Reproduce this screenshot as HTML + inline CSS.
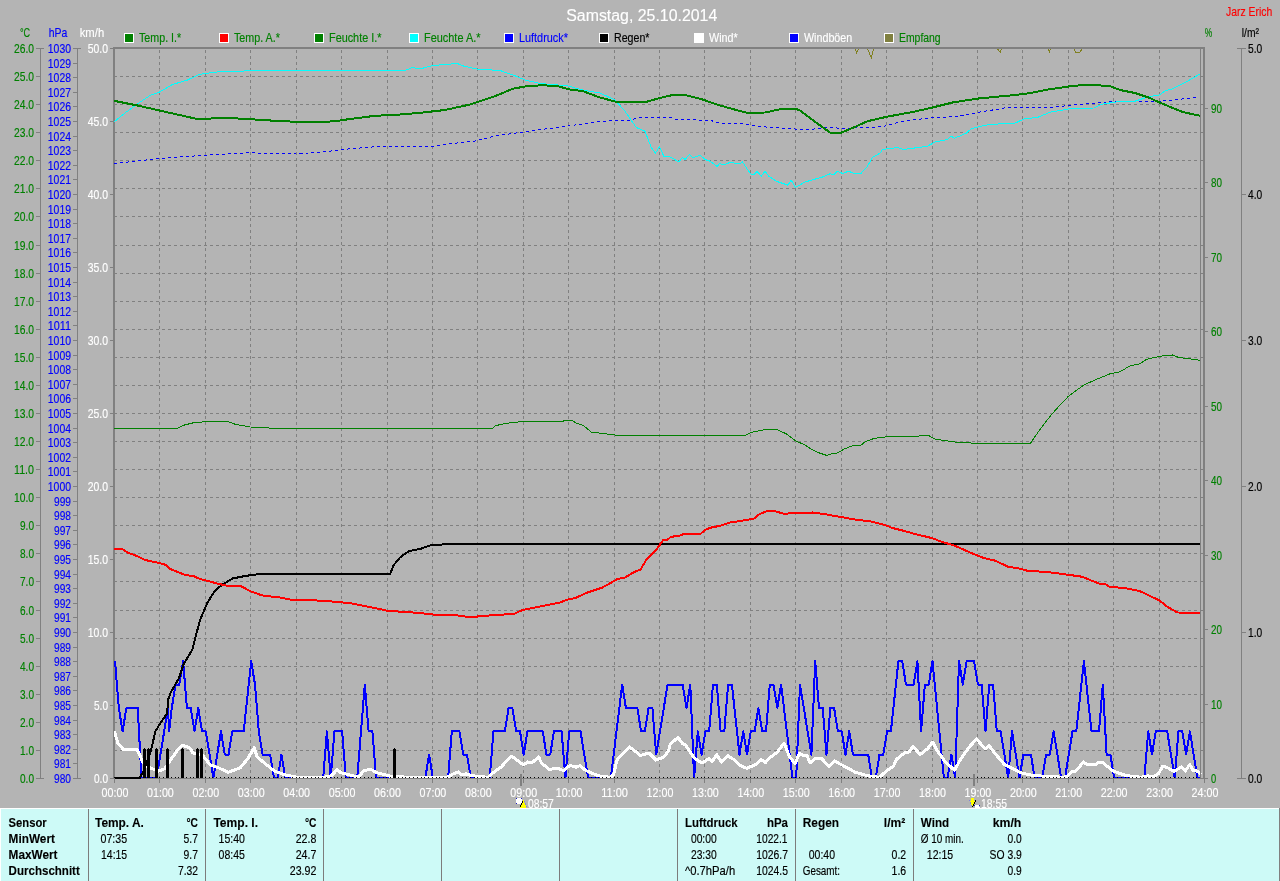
<!DOCTYPE html>
<html><head><meta charset="utf-8"><title>Samstag, 25.10.2014</title>
<style>
html,body{margin:0;padding:0;background:#b4b4b4;}
svg{display:block;will-change:transform;}
text{font-family:"Liberation Sans",sans-serif;}
polyline,path,rect,circle{shape-rendering:crispEdges;}
</style></head><body>
<svg width="1280" height="881" viewBox="0 0 1280 881">
<defs><clipPath id="plotclip"><rect x="114" y="49" width="1087" height="730"/></clipPath><clipPath id="plotclip2"><rect x="114" y="49" width="1088" height="729"/></clipPath></defs>
<rect x="0" y="0" width="1280" height="881" fill="#b4b4b4"/>
<path d="M114,76.5H1200 M114,104.5H1200 M114,132.5H1200 M114,160.5H1200 M114,188.5H1200 M114,216.5H1200 M114,245.5H1200 M114,273.5H1200 M114,301.5H1200 M114,329.5H1200 M114,357.5H1200 M114,385.5H1200 M114,413.5H1200 M114,441.5H1200 M114,469.5H1200 M114,497.5H1200 M114,525.5H1200 M114,553.5H1200 M114,581.5H1200 M114,610.5H1200 M114,638.5H1200 M114,666.5H1200 M114,694.5H1200 M114,722.5H1200 M114,750.5H1200" stroke="#808080" stroke-width="1" stroke-dasharray="3 3" stroke-dashoffset="0" fill="none"/>
<path d="M159.5,50V777 M205.5,50V777 M250.5,50V777 M296.5,50V777 M341.5,50V777 M387.5,50V777 M432.5,50V777 M477.5,50V777 M523.5,50V777 M568.5,50V777 M614.5,50V777 M659.5,50V777 M704.5,50V777 M750.5,50V777 M795.5,50V777 M841.5,50V777 M886.5,50V777 M932.5,50V777 M977.5,50V777 M1022.5,50V777 M1068.5,50V777 M1113.5,50V777 M1159.5,50V777" stroke="#808080" stroke-width="1" stroke-dasharray="3 3" fill="none"/>
<rect x="113" y="47" width="2" height="732" fill="#808080"/>
<g clip-path="url(#plotclip2)">
<polyline points="855.0,48.5 856.6,52.8 858.8,48.5" fill="none" stroke="#808020" stroke-width="1" stroke-linejoin="miter" />
<polyline points="867.5,48.5 871.2,57.8 873.8,48.5" fill="none" stroke="#808020" stroke-width="1" stroke-linejoin="miter" />
<polyline points="997.4,48.5 1000.2,52.5 1001.7,48.5" fill="none" stroke="#808020" stroke-width="1" stroke-linejoin="miter" />
<polyline points="1048.2,48.5 1049.4,51.7 1050.5,48.5" fill="none" stroke="#808020" stroke-width="1" stroke-linejoin="miter" />
<polyline points="1074.4,48.5 1075.3,52.3 1079.8,52.3 1082.6,48.5" fill="none" stroke="#808020" stroke-width="1" stroke-linejoin="miter" />
<polyline points="115.0,661.2 118.8,707.9 122.6,731.3 126.4,707.9 137.7,707.9 141.5,778.0 156.6,778.0 160.4,754.6 164.2,731.3 168.0,707.9 169.1,731.3 171.8,707.9 175.6,684.6 179.3,684.6 183.1,661.2 186.9,707.9 190.7,707.9 194.5,731.3 198.3,707.9 202.0,731.3 205.8,731.3 213.4,778.0 221.0,731.3 224.8,754.6 228.5,754.6 232.3,731.3 243.7,731.3 251.2,661.2 255.0,684.6 258.8,731.3 262.6,754.6 270.2,754.6 274.0,778.0 277.7,778.0 281.5,754.6 285.3,778.0 323.2,778.0 326.9,731.3 330.7,778.0 334.5,731.3 342.1,731.3 345.9,778.0 357.2,778.0 361.0,731.3 364.8,684.6 368.6,731.3 372.4,731.3 376.1,778.0 425.3,778.0 429.1,754.6 432.9,778.0 448.1,778.0 451.8,731.3 459.4,731.3 463.2,754.6 467.0,754.6 470.8,778.0 489.7,778.0 493.5,731.3 504.8,731.3 508.6,707.9 512.4,707.9 516.2,731.3 520.0,731.3 523.7,754.6 527.5,731.3 542.7,731.3 546.5,754.6 550.2,754.6 554.0,731.3 561.6,731.3 565.4,778.0 569.2,731.3 580.5,731.3 588.1,778.0 610.8,778.0 622.2,684.6 625.9,707.9 637.3,707.9 641.1,731.3 644.9,731.3 648.6,707.9 652.4,707.9 656.2,754.6 667.6,684.6 682.7,684.6 686.5,707.9 690.3,684.6 694.1,778.0 697.8,731.3 701.6,754.6 705.4,731.3 709.2,731.3 713.0,684.6 716.8,684.6 720.6,731.3 724.3,731.3 728.1,684.6 731.9,684.6 739.5,754.6 743.3,731.3 747.0,754.6 750.8,731.3 754.6,731.3 758.4,707.9 762.2,731.3 766.0,731.3 769.8,684.6 773.5,684.6 777.3,707.9 781.1,684.6 792.5,778.0 796.2,778.0 800.0,684.6 811.4,754.6 815.2,661.2 819.0,707.9 822.7,707.9 826.5,754.6 830.3,707.9 834.1,707.9 837.9,731.3 841.7,731.3 845.5,754.6 849.2,731.3 853.0,754.6 868.2,754.6 871.9,778.0 875.7,778.0 879.5,754.6 883.3,754.6 887.1,731.3 890.9,731.3 898.4,661.2 902.2,661.2 906.0,684.6 913.6,684.6 917.4,661.2 921.1,731.3 924.9,684.6 928.7,684.6 932.5,661.2 943.9,778.0 947.6,778.0 951.4,754.6 955.2,778.0 959.0,661.2 962.8,684.6 966.6,661.2 974.1,661.2 977.9,684.6 981.7,684.6 985.5,731.3 989.3,684.6 993.1,684.6 996.8,731.3 1000.6,731.3 1008.2,778.0 1012.0,731.3 1019.5,778.0 1023.3,754.6 1030.9,754.6 1034.7,778.0 1042.3,778.0 1046.0,754.6 1049.8,754.6 1053.6,731.3 1061.2,778.0 1065.0,778.0 1072.5,731.3 1076.3,731.3 1083.9,661.2 1091.5,731.3 1099.0,731.3 1102.8,684.6 1106.6,754.6 1110.4,754.6 1114.2,778.0 1144.4,778.0 1148.2,731.3 1152.0,754.6 1155.8,731.3 1167.2,731.3 1174.7,778.0 1178.5,731.3 1182.3,731.3 1186.1,754.6 1189.9,731.3 1197.4,778.0 1201.2,778.0" fill="none" stroke="#0000ff" stroke-width="2" stroke-linejoin="round" />
<polyline points="114.4,731.2 117.8,742.9 123.5,749.7 130.0,749.5 137.0,749.3 140.0,755.5 142.5,762.0 146.5,766.0 152.3,768.7 158.6,771.1 164.8,768.7 172.6,757.0 178.9,748.4 182.8,745.3 189.9,747.9 193.0,753.1 202.4,755.1 210.2,764.8 219.6,768.3 228.2,772.3 240.0,768.0 247.8,758.6 254.1,747.9 257.2,757.0 266.6,764.8 274.4,771.1 285.4,775.0 297.9,777.3 314.0,777.3 323.5,777.3 331.3,775.8 337.3,769.5 340.7,772.7 350.1,775.0 358.7,777.3 363.4,771.1 370.5,769.1 376.7,772.7 390.8,776.3 409.6,777.3 425.3,777.3 428.4,777.3 431.6,777.3 447.2,777.3 452.7,774.2 458.2,771.9 461.3,775.0 466.0,773.9 472.3,775.8 487.9,777.3 494.2,771.9 501.0,767.2 511.1,756.2 515.1,758.6 523.4,764.8 527.6,762.0 532.3,762.5 538.6,757.0 541.7,763.3 549.5,769.5 557.3,768.0 563.6,770.8 569.9,765.3 576.1,767.2 580.1,765.6 585.5,770.3 598.1,775.8 610.6,777.3 613.7,774.2 616.9,760.1 629.4,746.8 640.4,755.4 649.0,753.1 656.0,760.1 663.8,757.0 668.5,750.7 670.1,744.5 677.9,737.4 682.6,743.7 685.8,745.3 694.1,757.8 701.9,763.0 709.0,758.6 712.1,761.7 716.8,754.7 721.5,762.0 727.8,755.7 734.8,760.1 740.3,765.6 746.6,768.3 755.2,764.8 761.4,759.7 765.4,762.5 770.8,757.0 777.1,752.3 784.1,743.2 789.6,757.0 795.1,763.6 799.3,753.1 803.7,755.7 806.9,755.1 810.0,763.0 814.7,758.6 821.7,758.6 828.8,766.4 834.3,760.9 846.0,767.2 855.4,772.3 867.9,775.8 879.4,777.3 887.2,770.3 893.5,766.1 896.6,759.3 905.2,752.3 909.2,752.0 913.1,746.4 920.1,754.7 927.9,748.4 932.6,742.1 937.3,750.7 945.2,761.7 954.6,770.3 960.1,760.1 968.7,747.6 976.5,739.0 985.1,748.9 989.0,745.7 995.3,753.9 1004.7,764.8 1011.0,767.7 1020.4,772.7 1034.4,775.8 1050.1,776.3 1062.6,777.3 1067.0,776.3 1072.5,771.4 1075.7,771.1 1083.5,762.0 1087.4,764.8 1095.2,764.8 1098.4,762.0 1102.0,762.0 1113.3,771.1 1125.8,775.5 1141.4,777.3 1147.7,775.8 1152.4,777.3 1158.7,773.4 1162.6,766.4 1166.5,767.2 1174.3,771.4 1181.4,766.9 1185.3,771.1 1189.7,764.5 1193.1,770.3 1197.0,771.1 1201.0,774.2" fill="none" stroke="#ffffff" stroke-width="3" stroke-linejoin="round" />
</g>
<rect x="115" y="778" width="1090" height="1" fill="#808080"/>
<g clip-path="url(#plotclip)">
<polyline points="115.0,778.0 139.8,778.0 143.7,770.6 150.7,751.8 155.4,731.4 160.1,723.6 167.2,713.4 168.0,700.1 170.8,692.3 178.9,678.2 183.6,664.1 192.2,650.0 200.0,620.0 207.5,602.5 215.0,590.5 222.5,584.5 232.5,578.5 245.0,576.0 260.0,573.9 390.0,573.9 393.8,565.0 400.0,557.5 408.8,551.2 420.0,549.0 430.0,545.5 442.5,544.5 475.0,544.0 1201.0,544.0" fill="none" stroke="#000000" stroke-width="2" stroke-linejoin="round" />
<rect x="143" y="749" width="3" height="29" fill="#000"/><rect x="144" y="748" width="1" height="1" fill="#000"/>
<rect x="147" y="749" width="3" height="29" fill="#000"/><rect x="148" y="748" width="1" height="1" fill="#000"/>
<rect x="155" y="749" width="3" height="29" fill="#000"/><rect x="156" y="748" width="1" height="1" fill="#000"/>
<rect x="166" y="749" width="3" height="29" fill="#000"/><rect x="167" y="748" width="1" height="1" fill="#000"/>
<rect x="181" y="749" width="3" height="29" fill="#000"/><rect x="182" y="748" width="1" height="1" fill="#000"/>
<rect x="196" y="749" width="3" height="29" fill="#000"/><rect x="197" y="748" width="1" height="1" fill="#000"/>
<rect x="200" y="749" width="3" height="29" fill="#000"/><rect x="201" y="748" width="1" height="1" fill="#000"/>
<rect x="393" y="749" width="3" height="29" fill="#000"/><rect x="394" y="748" width="1" height="1" fill="#000"/>
<polyline points="114.0,163.5 159.5,158.5 205.0,155.2 250.5,152.8 275.0,154.0 296.5,153.8 325.0,151.8 341.5,149.5 375.0,146.8 420.0,146.1 430.0,146.5 452.5,143.5 475.0,141.0 495.0,136.0 523.5,132.0 545.0,129.0 570.0,125.8 595.0,122.0 615.0,120.5 630.0,120.0 640.0,117.5 670.0,117.5 675.0,119.0 695.0,119.8 712.5,121.0 720.0,123.0 740.0,123.2 752.5,125.5 767.5,127.2 795.0,129.0 810.0,129.5 825.0,127.5 835.0,127.5 840.0,128.8 860.0,127.5 882.5,126.8 902.5,121.2 927.5,118.2 952.5,116.8 967.5,114.5 980.0,112.0 1000.0,108.8 1010.0,107.0 1055.0,107.0 1068.5,105.5 1097.5,102.8 1115.0,101.2 1160.0,101.2 1177.5,99.5 1197.5,97.2" fill="none" stroke="#0000ff" stroke-width="1" stroke-linejoin="round" stroke-dasharray="3 3"/>
<polyline points="114.0,122.0 125.0,113.0 137.5,103.8 150.0,95.5 159.5,92.0 172.5,84.5 187.5,80.0 200.0,74.2 217.5,72.0 250.0,70.8 405.0,70.5 412.5,67.5 420.0,69.0 432.5,65.5 457.5,63.5 462.5,65.8 477.8,69.2 500.0,70.5 515.0,75.8 525.0,80.0 540.0,83.5 567.5,85.8 582.5,90.0 600.0,93.0 615.0,100.0 625.0,111.2 636.2,127.5 645.0,131.2 651.2,147.5 655.5,153.0 659.5,146.8 663.8,156.2 670.0,156.8 678.8,162.0 682.5,157.5 685.0,159.5 689.5,154.5 693.0,158.0 700.0,155.0 705.0,159.5 710.0,161.2 717.0,166.5 720.0,163.2 723.0,165.0 730.0,162.5 740.0,163.8 742.5,162.0 750.5,173.8 753.8,175.0 757.0,171.2 761.2,176.2 765.0,171.2 768.8,176.2 776.2,181.2 788.0,185.2 791.2,180.0 795.5,187.5 805.0,182.0 822.5,177.0 830.0,173.8 833.8,174.5 837.5,171.2 842.5,173.5 848.8,171.2 853.8,173.5 861.2,173.2 867.5,166.2 872.5,157.5 880.0,153.2 882.5,149.5 897.5,147.5 903.8,149.5 927.5,146.2 935.0,142.0 947.5,139.5 951.2,136.2 954.5,138.2 966.2,133.2 971.2,128.8 985.0,125.2 1000.0,123.8 1015.0,123.2 1023.8,119.0 1037.5,117.4 1050.0,112.2 1068.5,109.0 1093.8,108.0 1101.2,104.2 1120.0,101.5 1135.0,101.2 1147.5,97.0 1159.5,95.0 1165.0,90.8 1172.5,88.8 1185.0,82.5 1200.0,74.0" fill="none" stroke="#00ffff" stroke-width="1" stroke-linejoin="round" />
<polyline points="114.0,428.5 177.5,428.5 182.5,425.5 192.5,423.0 207.5,421.5 227.5,421.5 235.0,424.2 250.0,427.0 267.5,427.2 270.0,428.5 492.5,428.5 495.0,425.8 505.0,423.5 522.5,421.5 562.5,421.5 565.0,420.2 571.2,420.2 576.2,423.0 583.8,425.8 591.2,432.0 605.0,433.8 616.2,435.2 740.0,435.4 746.2,435.0 751.2,432.5 760.0,430.5 768.8,429.2 776.2,429.2 786.2,433.8 795.5,440.8 805.0,445.0 811.2,449.2 820.0,453.2 827.0,455.5 832.5,453.5 837.5,453.0 843.8,449.2 852.5,445.8 861.2,445.0 865.0,441.8 873.8,438.5 888.8,436.5 917.5,436.5 920.0,435.5 928.8,435.5 935.0,439.2 955.0,442.0 973.8,443.2 1030.5,443.2 1038.8,431.2 1046.2,421.2 1052.5,413.5 1060.0,405.0 1068.5,396.2 1083.8,385.0 1095.0,380.0 1110.0,373.8 1120.0,371.8 1130.0,365.8 1140.0,363.8 1146.2,359.5 1160.0,356.2 1172.5,355.0 1178.8,357.5 1200.0,360.2" fill="none" stroke="#008000" stroke-width="1" stroke-linejoin="round" />
<polyline points="114.0,549.2 122.5,549.2 127.5,552.5 137.5,556.2 145.0,560.0 159.5,563.0 166.2,565.0 170.0,568.8 185.0,575.0 193.8,576.2 200.0,579.0 220.0,584.2 227.5,585.8 241.2,586.2 250.0,591.2 262.5,595.5 280.0,597.5 290.0,599.5 325.0,600.8 350.0,603.2 375.0,608.0 387.5,610.8 420.0,613.0 432.5,614.5 455.0,615.0 465.0,616.5 477.5,616.5 495.0,615.0 513.8,614.0 522.5,610.0 545.0,605.5 560.0,602.5 568.5,599.2 575.0,598.2 587.5,592.5 602.5,587.5 617.5,579.0 625.0,577.5 634.4,571.9 640.6,569.4 646.2,560.0 656.2,550.0 663.1,540.0 667.5,539.9 670.6,536.9 680.0,535.6 683.8,533.8 700.6,533.8 705.0,530.0 710.0,527.8 720.0,525.8 730.0,522.5 740.0,521.0 753.8,518.8 758.8,514.5 767.5,510.8 773.8,510.8 783.8,513.8 795.0,513.0 812.5,512.5 822.5,513.8 840.0,516.8 857.5,520.0 870.0,521.2 885.0,525.0 892.5,528.0 902.5,530.5 915.0,534.0 932.5,538.2 940.0,541.2 955.0,545.8 970.0,552.5 983.8,558.0 995.0,560.6 1008.8,567.0 1017.5,568.0 1027.5,570.8 1047.5,572.0 1068.5,574.8 1082.5,576.8 1090.0,580.0 1100.0,583.8 1105.0,583.8 1110.0,587.0 1125.0,588.0 1140.0,591.2 1159.5,600.5 1167.5,606.8 1177.5,612.5 1200.0,612.8" fill="none" stroke="#ff0000" stroke-width="2" stroke-linejoin="round" />
<polyline points="114.0,100.8 137.5,105.5 159.5,110.5 175.0,114.0 195.0,118.5 205.0,118.8 225.0,117.8 250.5,119.2 275.0,120.8 296.5,121.8 312.5,122.5 335.0,121.2 350.0,119.0 375.0,115.8 400.0,114.5 420.0,112.8 445.0,110.0 470.0,104.5 495.0,96.2 512.5,88.8 525.0,86.5 542.5,85.2 557.5,86.2 570.0,89.5 582.5,91.0 600.0,97.5 615.0,101.5 647.5,101.5 660.0,98.0 672.5,95.0 685.0,95.0 702.5,99.5 720.0,105.5 740.0,111.0 747.5,112.8 765.0,112.5 782.5,108.8 795.5,108.8 800.0,110.5 812.5,120.0 830.0,132.5 841.5,132.5 852.5,128.0 867.5,121.2 886.5,116.8 915.0,111.5 932.5,107.5 952.5,102.5 977.5,98.6 1010.0,95.5 1030.0,93.2 1045.0,90.0 1068.5,86.5 1082.5,85.0 1097.5,85.2 1110.0,86.2 1120.0,90.0 1135.0,93.0 1150.0,98.0 1159.5,102.5 1170.0,106.8 1182.5,112.0 1200.0,115.8" fill="none" stroke="#008000" stroke-width="2" stroke-linejoin="round" />
</g>
<rect x="115" y="47" width="1090" height="2" fill="#808080"/>
<rect x="1200" y="49" width="1" height="729" fill="#808080"/>
<rect x="1203" y="47" width="2" height="732" fill="#808080"/>
<rect x="115" y="777" width="26" height="2" fill="#000"/>
<path d="M114,777.5h1M118,777.5h1M122,777.5h1M125,777.5h1M129,777.5h1M133,777.5h1M137,777.5h1M140,777.5h1M144,777.5h1M148,777.5h1M152,777.5h1M156,777.5h1M159,777.5h1M163,777.5h1M167,777.5h1M171,777.5h1M175,777.5h1M178,777.5h1M182,777.5h1M186,777.5h1M190,777.5h1M193,777.5h1M197,777.5h1M201,777.5h1M205,777.5h1M209,777.5h1M212,777.5h1M216,777.5h1M220,777.5h1M224,777.5h1M228,777.5h1M231,777.5h1M235,777.5h1M239,777.5h1M243,777.5h1M246,777.5h1M250,777.5h1M254,777.5h1M258,777.5h1M262,777.5h1M265,777.5h1M269,777.5h1M273,777.5h1M277,777.5h1M281,777.5h1M284,777.5h1M288,777.5h1M292,777.5h1M296,777.5h1M299,777.5h1M303,777.5h1M307,777.5h1M311,777.5h1M315,777.5h1M318,777.5h1M322,777.5h1M326,777.5h1M330,777.5h1M334,777.5h1M337,777.5h1M341,777.5h1M345,777.5h1M349,777.5h1M352,777.5h1M356,777.5h1M360,777.5h1M364,777.5h1M368,777.5h1M371,777.5h1M375,777.5h1M379,777.5h1M383,777.5h1M386,777.5h1M390,777.5h1M394,777.5h1M398,777.5h1M402,777.5h1M405,777.5h1M409,777.5h1M413,777.5h1M417,777.5h1M421,777.5h1M424,777.5h1M428,777.5h1M432,777.5h1M436,777.5h1M439,777.5h1M443,777.5h1M447,777.5h1M451,777.5h1M455,777.5h1M458,777.5h1M462,777.5h1M466,777.5h1M470,777.5h1M474,777.5h1M477,777.5h1M481,777.5h1M485,777.5h1M489,777.5h1M492,777.5h1M496,777.5h1M500,777.5h1M504,777.5h1M508,777.5h1M511,777.5h1M515,777.5h1M519,777.5h1M523,777.5h1M527,777.5h1M530,777.5h1M534,777.5h1M538,777.5h1M542,777.5h1M545,777.5h1M549,777.5h1M553,777.5h1M557,777.5h1M561,777.5h1M564,777.5h1M568,777.5h1M572,777.5h1M576,777.5h1M580,777.5h1M583,777.5h1M587,777.5h1M591,777.5h1M595,777.5h1M598,777.5h1M602,777.5h1M606,777.5h1M610,777.5h1M614,777.5h1M617,777.5h1M621,777.5h1M625,777.5h1M629,777.5h1M633,777.5h1M636,777.5h1M640,777.5h1M644,777.5h1M648,777.5h1M651,777.5h1M655,777.5h1M659,777.5h1M663,777.5h1M667,777.5h1M670,777.5h1M674,777.5h1M678,777.5h1M682,777.5h1M685,777.5h1M689,777.5h1M693,777.5h1M697,777.5h1M701,777.5h1M704,777.5h1M708,777.5h1M712,777.5h1M716,777.5h1M720,777.5h1M723,777.5h1M727,777.5h1M731,777.5h1M735,777.5h1M738,777.5h1M742,777.5h1M746,777.5h1M750,777.5h1M754,777.5h1M757,777.5h1M761,777.5h1M765,777.5h1M769,777.5h1M773,777.5h1M776,777.5h1M780,777.5h1M784,777.5h1M788,777.5h1M791,777.5h1M795,777.5h1M799,777.5h1M803,777.5h1M807,777.5h1M810,777.5h1M814,777.5h1M818,777.5h1M822,777.5h1M826,777.5h1M829,777.5h1M833,777.5h1M837,777.5h1M841,777.5h1M844,777.5h1M848,777.5h1M852,777.5h1M856,777.5h1M860,777.5h1M863,777.5h1M867,777.5h1M871,777.5h1M875,777.5h1M879,777.5h1M882,777.5h1M886,777.5h1M890,777.5h1M894,777.5h1M897,777.5h1M901,777.5h1M905,777.5h1M909,777.5h1M913,777.5h1M916,777.5h1M920,777.5h1M924,777.5h1M928,777.5h1M931,777.5h1M935,777.5h1M939,777.5h1M943,777.5h1M947,777.5h1M950,777.5h1M954,777.5h1M958,777.5h1M962,777.5h1M966,777.5h1M969,777.5h1M973,777.5h1M977,777.5h1M981,777.5h1M984,777.5h1M988,777.5h1M992,777.5h1M996,777.5h1M1000,777.5h1M1003,777.5h1M1007,777.5h1M1011,777.5h1M1015,777.5h1M1019,777.5h1M1022,777.5h1M1026,777.5h1M1030,777.5h1M1034,777.5h1M1037,777.5h1M1041,777.5h1M1045,777.5h1M1049,777.5h1M1053,777.5h1M1056,777.5h1M1060,777.5h1M1064,777.5h1M1068,777.5h1M1072,777.5h1M1075,777.5h1M1079,777.5h1M1083,777.5h1M1087,777.5h1M1090,777.5h1M1094,777.5h1M1098,777.5h1M1102,777.5h1M1106,777.5h1M1109,777.5h1M1113,777.5h1M1117,777.5h1M1121,777.5h1M1125,777.5h1M1128,777.5h1M1132,777.5h1M1136,777.5h1M1140,777.5h1M1143,777.5h1M1147,777.5h1M1151,777.5h1M1155,777.5h1M1159,777.5h1M1162,777.5h1M1166,777.5h1M1170,777.5h1M1174,777.5h1M1178,777.5h1M1181,777.5h1M1185,777.5h1M1189,777.5h1M1193,777.5h1M1196,777.5h1" stroke="#000" stroke-width="1" fill="none"/>
<path d="M1201,76.5H1203 M1201,104.5H1203 M1201,132.5H1203 M1201,160.5H1203 M1201,188.5H1203 M1201,216.5H1203 M1201,245.5H1203 M1201,273.5H1203 M1201,301.5H1203 M1201,329.5H1203 M1201,357.5H1203 M1201,385.5H1203 M1201,413.5H1203 M1201,441.5H1203 M1201,469.5H1203 M1201,497.5H1203 M1201,525.5H1203 M1201,553.5H1203 M1201,581.5H1203 M1201,610.5H1203 M1201,638.5H1203 M1201,666.5H1203 M1201,694.5H1203 M1201,722.5H1203 M1201,750.5H1203" stroke="#808080" stroke-width="1" fill="none"/>
<path d="M114.5,779V783 M159.5,779V783 M205.5,779V783 M250.5,779V783 M296.5,779V783 M341.5,779V783 M387.5,779V783 M432.5,779V783 M477.5,779V783 M523.5,779V783 M568.5,779V783 M614.5,779V783 M659.5,779V783 M704.5,779V783 M750.5,779V783 M795.5,779V783 M841.5,779V783 M886.5,779V783 M932.5,779V783 M977.5,779V783 M1022.5,779V783 M1068.5,779V783 M1113.5,779V783 M1159.5,779V783 M1204.5,779V783" stroke="#808080" stroke-width="1" fill="none"/>
<path d="M40.5,48V779 M36,778.5H44 M36,750.5H40 M36,722.5H40 M36,694.5H40 M36,666.5H40 M36,638.5H40 M36,610.5H40 M36,581.5H40 M36,553.5H40 M36,525.5H40 M36,497.5H40 M36,469.5H40 M36,441.5H40 M36,413.5H40 M36,385.5H40 M36,357.5H40 M36,329.5H40 M36,301.5H40 M36,273.5H40 M36,245.5H40 M36,216.5H40 M36,188.5H40 M36,160.5H40 M36,132.5H40 M36,104.5H40 M36,76.5H40 M36,48.5H44" stroke="#808080" stroke-width="1" fill="none"/>
<text transform="translate(34.00,783.00) scale(0.8393,1)" text-anchor="end" fill="#008000" stroke="#008000" stroke-width="0.15" font-size="12">0.0</text>
<text transform="translate(34.00,755.00) scale(0.8393,1)" text-anchor="end" fill="#008000" stroke="#008000" stroke-width="0.15" font-size="12">1.0</text>
<text transform="translate(34.00,727.00) scale(0.8393,1)" text-anchor="end" fill="#008000" stroke="#008000" stroke-width="0.15" font-size="12">2.0</text>
<text transform="translate(34.00,699.00) scale(0.8393,1)" text-anchor="end" fill="#008000" stroke="#008000" stroke-width="0.15" font-size="12">3.0</text>
<text transform="translate(34.00,671.00) scale(0.8393,1)" text-anchor="end" fill="#008000" stroke="#008000" stroke-width="0.15" font-size="12">4.0</text>
<text transform="translate(34.00,643.00) scale(0.8393,1)" text-anchor="end" fill="#008000" stroke="#008000" stroke-width="0.15" font-size="12">5.0</text>
<text transform="translate(34.00,615.00) scale(0.8393,1)" text-anchor="end" fill="#008000" stroke="#008000" stroke-width="0.15" font-size="12">6.0</text>
<text transform="translate(34.00,586.00) scale(0.8393,1)" text-anchor="end" fill="#008000" stroke="#008000" stroke-width="0.15" font-size="12">7.0</text>
<text transform="translate(34.00,558.00) scale(0.8393,1)" text-anchor="end" fill="#008000" stroke="#008000" stroke-width="0.15" font-size="12">8.0</text>
<text transform="translate(34.00,530.00) scale(0.8393,1)" text-anchor="end" fill="#008000" stroke="#008000" stroke-width="0.15" font-size="12">9.0</text>
<text transform="translate(34.00,502.00) scale(0.8564,1)" text-anchor="end" fill="#008000" stroke="#008000" stroke-width="0.15" font-size="12">10.0</text>
<text transform="translate(34.00,474.00) scale(0.8903,1)" text-anchor="end" fill="#008000" stroke="#008000" stroke-width="0.15" font-size="12">11.0</text>
<text transform="translate(34.00,446.00) scale(0.8564,1)" text-anchor="end" fill="#008000" stroke="#008000" stroke-width="0.15" font-size="12">12.0</text>
<text transform="translate(34.00,418.00) scale(0.8564,1)" text-anchor="end" fill="#008000" stroke="#008000" stroke-width="0.15" font-size="12">13.0</text>
<text transform="translate(34.00,390.00) scale(0.8564,1)" text-anchor="end" fill="#008000" stroke="#008000" stroke-width="0.15" font-size="12">14.0</text>
<text transform="translate(34.00,362.00) scale(0.8564,1)" text-anchor="end" fill="#008000" stroke="#008000" stroke-width="0.15" font-size="12">15.0</text>
<text transform="translate(34.00,334.00) scale(0.8564,1)" text-anchor="end" fill="#008000" stroke="#008000" stroke-width="0.15" font-size="12">16.0</text>
<text transform="translate(34.00,306.00) scale(0.8564,1)" text-anchor="end" fill="#008000" stroke="#008000" stroke-width="0.15" font-size="12">17.0</text>
<text transform="translate(34.00,278.00) scale(0.8564,1)" text-anchor="end" fill="#008000" stroke="#008000" stroke-width="0.15" font-size="12">18.0</text>
<text transform="translate(34.00,250.00) scale(0.8564,1)" text-anchor="end" fill="#008000" stroke="#008000" stroke-width="0.15" font-size="12">19.0</text>
<text transform="translate(34.00,221.00) scale(0.8564,1)" text-anchor="end" fill="#008000" stroke="#008000" stroke-width="0.15" font-size="12">20.0</text>
<text transform="translate(34.00,193.00) scale(0.8564,1)" text-anchor="end" fill="#008000" stroke="#008000" stroke-width="0.15" font-size="12">21.0</text>
<text transform="translate(34.00,165.00) scale(0.8564,1)" text-anchor="end" fill="#008000" stroke="#008000" stroke-width="0.15" font-size="12">22.0</text>
<text transform="translate(34.00,137.00) scale(0.8564,1)" text-anchor="end" fill="#008000" stroke="#008000" stroke-width="0.15" font-size="12">23.0</text>
<text transform="translate(34.00,109.00) scale(0.8564,1)" text-anchor="end" fill="#008000" stroke="#008000" stroke-width="0.15" font-size="12">24.0</text>
<text transform="translate(34.00,81.00) scale(0.8564,1)" text-anchor="end" fill="#008000" stroke="#008000" stroke-width="0.15" font-size="12">25.0</text>
<text transform="translate(34.00,53.00) scale(0.8564,1)" text-anchor="end" fill="#008000" stroke="#008000" stroke-width="0.15" font-size="12">26.0</text>
<path d="M77.5,48V779 M73,778.5H81 M73,763.5H77 M73,749.5H77 M73,734.5H77 M73,720.5H77 M73,705.5H77 M73,690.5H77 M73,676.5H77 M73,661.5H77 M73,647.5H77 M73,632.5H77 M73,617.5H77 M73,603.5H77 M73,588.5H77 M73,574.5H77 M73,559.5H77 M73,544.5H77 M73,530.5H77 M73,515.5H77 M73,501.5H77 M73,486.5H77 M73,471.5H77 M73,457.5H77 M73,442.5H77 M73,428.5H77 M73,413.5H77 M73,398.5H77 M73,384.5H77 M73,369.5H77 M73,355.5H77 M73,340.5H77 M73,325.5H77 M73,311.5H77 M73,296.5H77 M73,282.5H77 M73,267.5H77 M73,252.5H77 M73,238.5H77 M73,223.5H77 M73,209.5H77 M73,194.5H77 M73,179.5H77 M73,165.5H77 M73,150.5H77 M73,136.5H77 M73,121.5H77 M73,106.5H77 M73,92.5H77 M73,77.5H77 M73,63.5H77 M73,48.5H81" stroke="#808080" stroke-width="1" fill="none"/>
<text transform="translate(71.00,783.00) scale(0.8491,1)" text-anchor="end" fill="#0000ff" stroke="#0000ff" stroke-width="0.15" font-size="12">980</text>
<text transform="translate(71.00,768.00) scale(0.8491,1)" text-anchor="end" fill="#0000ff" stroke="#0000ff" stroke-width="0.15" font-size="12">981</text>
<text transform="translate(71.00,754.00) scale(0.8491,1)" text-anchor="end" fill="#0000ff" stroke="#0000ff" stroke-width="0.15" font-size="12">982</text>
<text transform="translate(71.00,739.00) scale(0.8491,1)" text-anchor="end" fill="#0000ff" stroke="#0000ff" stroke-width="0.15" font-size="12">983</text>
<text transform="translate(71.00,725.00) scale(0.8491,1)" text-anchor="end" fill="#0000ff" stroke="#0000ff" stroke-width="0.15" font-size="12">984</text>
<text transform="translate(71.00,710.00) scale(0.8491,1)" text-anchor="end" fill="#0000ff" stroke="#0000ff" stroke-width="0.15" font-size="12">985</text>
<text transform="translate(71.00,695.00) scale(0.8491,1)" text-anchor="end" fill="#0000ff" stroke="#0000ff" stroke-width="0.15" font-size="12">986</text>
<text transform="translate(71.00,681.00) scale(0.8491,1)" text-anchor="end" fill="#0000ff" stroke="#0000ff" stroke-width="0.15" font-size="12">987</text>
<text transform="translate(71.00,666.00) scale(0.8491,1)" text-anchor="end" fill="#0000ff" stroke="#0000ff" stroke-width="0.15" font-size="12">988</text>
<text transform="translate(71.00,652.00) scale(0.8491,1)" text-anchor="end" fill="#0000ff" stroke="#0000ff" stroke-width="0.15" font-size="12">989</text>
<text transform="translate(71.00,637.00) scale(0.8491,1)" text-anchor="end" fill="#0000ff" stroke="#0000ff" stroke-width="0.15" font-size="12">990</text>
<text transform="translate(71.00,622.00) scale(0.8491,1)" text-anchor="end" fill="#0000ff" stroke="#0000ff" stroke-width="0.15" font-size="12">991</text>
<text transform="translate(71.00,608.00) scale(0.8491,1)" text-anchor="end" fill="#0000ff" stroke="#0000ff" stroke-width="0.15" font-size="12">992</text>
<text transform="translate(71.00,593.00) scale(0.8491,1)" text-anchor="end" fill="#0000ff" stroke="#0000ff" stroke-width="0.15" font-size="12">993</text>
<text transform="translate(71.00,579.00) scale(0.8491,1)" text-anchor="end" fill="#0000ff" stroke="#0000ff" stroke-width="0.15" font-size="12">994</text>
<text transform="translate(71.00,564.00) scale(0.8491,1)" text-anchor="end" fill="#0000ff" stroke="#0000ff" stroke-width="0.15" font-size="12">995</text>
<text transform="translate(71.00,549.00) scale(0.8491,1)" text-anchor="end" fill="#0000ff" stroke="#0000ff" stroke-width="0.15" font-size="12">996</text>
<text transform="translate(71.00,535.00) scale(0.8491,1)" text-anchor="end" fill="#0000ff" stroke="#0000ff" stroke-width="0.15" font-size="12">997</text>
<text transform="translate(71.00,520.00) scale(0.8491,1)" text-anchor="end" fill="#0000ff" stroke="#0000ff" stroke-width="0.15" font-size="12">998</text>
<text transform="translate(71.00,506.00) scale(0.8491,1)" text-anchor="end" fill="#0000ff" stroke="#0000ff" stroke-width="0.15" font-size="12">999</text>
<text transform="translate(71.00,491.00) scale(0.8691,1)" text-anchor="end" fill="#0000ff" stroke="#0000ff" stroke-width="0.15" font-size="12">1000</text>
<text transform="translate(71.00,476.00) scale(0.8691,1)" text-anchor="end" fill="#0000ff" stroke="#0000ff" stroke-width="0.15" font-size="12">1001</text>
<text transform="translate(71.00,462.00) scale(0.8691,1)" text-anchor="end" fill="#0000ff" stroke="#0000ff" stroke-width="0.15" font-size="12">1002</text>
<text transform="translate(71.00,447.00) scale(0.8691,1)" text-anchor="end" fill="#0000ff" stroke="#0000ff" stroke-width="0.15" font-size="12">1003</text>
<text transform="translate(71.00,433.00) scale(0.8691,1)" text-anchor="end" fill="#0000ff" stroke="#0000ff" stroke-width="0.15" font-size="12">1004</text>
<text transform="translate(71.00,418.00) scale(0.8691,1)" text-anchor="end" fill="#0000ff" stroke="#0000ff" stroke-width="0.15" font-size="12">1005</text>
<text transform="translate(71.00,403.00) scale(0.8691,1)" text-anchor="end" fill="#0000ff" stroke="#0000ff" stroke-width="0.15" font-size="12">1006</text>
<text transform="translate(71.00,389.00) scale(0.8691,1)" text-anchor="end" fill="#0000ff" stroke="#0000ff" stroke-width="0.15" font-size="12">1007</text>
<text transform="translate(71.00,374.00) scale(0.8691,1)" text-anchor="end" fill="#0000ff" stroke="#0000ff" stroke-width="0.15" font-size="12">1008</text>
<text transform="translate(71.00,360.00) scale(0.8691,1)" text-anchor="end" fill="#0000ff" stroke="#0000ff" stroke-width="0.15" font-size="12">1009</text>
<text transform="translate(71.00,345.00) scale(0.8691,1)" text-anchor="end" fill="#0000ff" stroke="#0000ff" stroke-width="0.15" font-size="12">1010</text>
<text transform="translate(71.00,330.00) scale(0.8991,1)" text-anchor="end" fill="#0000ff" stroke="#0000ff" stroke-width="0.15" font-size="12">1011</text>
<text transform="translate(71.00,316.00) scale(0.8691,1)" text-anchor="end" fill="#0000ff" stroke="#0000ff" stroke-width="0.15" font-size="12">1012</text>
<text transform="translate(71.00,301.00) scale(0.8691,1)" text-anchor="end" fill="#0000ff" stroke="#0000ff" stroke-width="0.15" font-size="12">1013</text>
<text transform="translate(71.00,287.00) scale(0.8691,1)" text-anchor="end" fill="#0000ff" stroke="#0000ff" stroke-width="0.15" font-size="12">1014</text>
<text transform="translate(71.00,272.00) scale(0.8691,1)" text-anchor="end" fill="#0000ff" stroke="#0000ff" stroke-width="0.15" font-size="12">1015</text>
<text transform="translate(71.00,257.00) scale(0.8691,1)" text-anchor="end" fill="#0000ff" stroke="#0000ff" stroke-width="0.15" font-size="12">1016</text>
<text transform="translate(71.00,243.00) scale(0.8691,1)" text-anchor="end" fill="#0000ff" stroke="#0000ff" stroke-width="0.15" font-size="12">1017</text>
<text transform="translate(71.00,228.00) scale(0.8691,1)" text-anchor="end" fill="#0000ff" stroke="#0000ff" stroke-width="0.15" font-size="12">1018</text>
<text transform="translate(71.00,214.00) scale(0.8691,1)" text-anchor="end" fill="#0000ff" stroke="#0000ff" stroke-width="0.15" font-size="12">1019</text>
<text transform="translate(71.00,199.00) scale(0.8691,1)" text-anchor="end" fill="#0000ff" stroke="#0000ff" stroke-width="0.15" font-size="12">1020</text>
<text transform="translate(71.00,184.00) scale(0.8691,1)" text-anchor="end" fill="#0000ff" stroke="#0000ff" stroke-width="0.15" font-size="12">1021</text>
<text transform="translate(71.00,170.00) scale(0.8691,1)" text-anchor="end" fill="#0000ff" stroke="#0000ff" stroke-width="0.15" font-size="12">1022</text>
<text transform="translate(71.00,155.00) scale(0.8691,1)" text-anchor="end" fill="#0000ff" stroke="#0000ff" stroke-width="0.15" font-size="12">1023</text>
<text transform="translate(71.00,141.00) scale(0.8691,1)" text-anchor="end" fill="#0000ff" stroke="#0000ff" stroke-width="0.15" font-size="12">1024</text>
<text transform="translate(71.00,126.00) scale(0.8691,1)" text-anchor="end" fill="#0000ff" stroke="#0000ff" stroke-width="0.15" font-size="12">1025</text>
<text transform="translate(71.00,111.00) scale(0.8691,1)" text-anchor="end" fill="#0000ff" stroke="#0000ff" stroke-width="0.15" font-size="12">1026</text>
<text transform="translate(71.00,97.00) scale(0.8691,1)" text-anchor="end" fill="#0000ff" stroke="#0000ff" stroke-width="0.15" font-size="12">1027</text>
<text transform="translate(71.00,82.00) scale(0.8691,1)" text-anchor="end" fill="#0000ff" stroke="#0000ff" stroke-width="0.15" font-size="12">1028</text>
<text transform="translate(71.00,68.00) scale(0.8691,1)" text-anchor="end" fill="#0000ff" stroke="#0000ff" stroke-width="0.15" font-size="12">1029</text>
<text transform="translate(71.00,53.00) scale(0.8691,1)" text-anchor="end" fill="#0000ff" stroke="#0000ff" stroke-width="0.15" font-size="12">1030</text>
<text transform="translate(108.00,783.00) scale(0.8393,1)" text-anchor="end" fill="#fff" stroke="#fff" stroke-width="0.15" font-size="12">0.0</text>
<text transform="translate(108.00,710.00) scale(0.8393,1)" text-anchor="end" fill="#fff" stroke="#fff" stroke-width="0.15" font-size="12">5.0</text>
<text transform="translate(108.00,637.00) scale(0.8692,1)" text-anchor="end" fill="#fff" stroke="#fff" stroke-width="0.15" font-size="12">10.0</text>
<text transform="translate(108.00,564.00) scale(0.8692,1)" text-anchor="end" fill="#fff" stroke="#fff" stroke-width="0.15" font-size="12">15.0</text>
<text transform="translate(108.00,491.00) scale(0.8692,1)" text-anchor="end" fill="#fff" stroke="#fff" stroke-width="0.15" font-size="12">20.0</text>
<text transform="translate(108.00,418.00) scale(0.8692,1)" text-anchor="end" fill="#fff" stroke="#fff" stroke-width="0.15" font-size="12">25.0</text>
<text transform="translate(108.00,345.00) scale(0.8692,1)" text-anchor="end" fill="#fff" stroke="#fff" stroke-width="0.15" font-size="12">30.0</text>
<text transform="translate(108.00,272.00) scale(0.8692,1)" text-anchor="end" fill="#fff" stroke="#fff" stroke-width="0.15" font-size="12">35.0</text>
<text transform="translate(108.00,199.00) scale(0.8692,1)" text-anchor="end" fill="#fff" stroke="#fff" stroke-width="0.15" font-size="12">40.0</text>
<text transform="translate(108.00,126.00) scale(0.8692,1)" text-anchor="end" fill="#fff" stroke="#fff" stroke-width="0.15" font-size="12">45.0</text>
<text transform="translate(108.00,53.00) scale(0.8692,1)" text-anchor="end" fill="#fff" stroke="#fff" stroke-width="0.15" font-size="12">50.0</text>
<path d="M110,778.5H113 M110,705.5H113 M110,632.5H113 M110,559.5H113 M110,486.5H113 M110,413.5H113 M110,340.5H113 M110,267.5H113 M110,194.5H113 M110,121.5H113 M110,48.5H113" stroke="#808080" stroke-width="1" fill="none"/>
<text transform="translate(1211.00,783.00) scale(0.7792,1)" text-anchor="start" fill="#008000" stroke="#008000" stroke-width="0.15" font-size="12">0</text>
<text transform="translate(1211.00,709.00) scale(0.8242,1)" text-anchor="start" fill="#008000" stroke="#008000" stroke-width="0.15" font-size="12">10</text>
<text transform="translate(1211.00,634.00) scale(0.8242,1)" text-anchor="start" fill="#008000" stroke="#008000" stroke-width="0.15" font-size="12">20</text>
<text transform="translate(1211.00,560.00) scale(0.8242,1)" text-anchor="start" fill="#008000" stroke="#008000" stroke-width="0.15" font-size="12">30</text>
<text transform="translate(1211.00,485.00) scale(0.8242,1)" text-anchor="start" fill="#008000" stroke="#008000" stroke-width="0.15" font-size="12">40</text>
<text transform="translate(1211.00,411.00) scale(0.8242,1)" text-anchor="start" fill="#008000" stroke="#008000" stroke-width="0.15" font-size="12">50</text>
<text transform="translate(1211.00,336.00) scale(0.8242,1)" text-anchor="start" fill="#008000" stroke="#008000" stroke-width="0.15" font-size="12">60</text>
<text transform="translate(1211.00,262.00) scale(0.8242,1)" text-anchor="start" fill="#008000" stroke="#008000" stroke-width="0.15" font-size="12">70</text>
<text transform="translate(1211.00,187.00) scale(0.8242,1)" text-anchor="start" fill="#008000" stroke="#008000" stroke-width="0.15" font-size="12">80</text>
<text transform="translate(1211.00,113.00) scale(0.8242,1)" text-anchor="start" fill="#008000" stroke="#008000" stroke-width="0.15" font-size="12">90</text>
<path d="M1205,778.5H1208 M1205,704.5H1208 M1205,629.5H1208 M1205,555.5H1208 M1205,480.5H1208 M1205,406.5H1208 M1205,331.5H1208 M1205,257.5H1208 M1205,182.5H1208 M1205,108.5H1208" stroke="#808080" stroke-width="1" fill="none"/>
<text transform="translate(1248.00,783.00) scale(0.8513,1)" text-anchor="start" fill="#000" stroke="#000" stroke-width="0.15" font-size="12">0.0</text>
<text transform="translate(1248.00,637.00) scale(0.8513,1)" text-anchor="start" fill="#000" stroke="#000" stroke-width="0.15" font-size="12">1.0</text>
<text transform="translate(1248.00,491.00) scale(0.8513,1)" text-anchor="start" fill="#000" stroke="#000" stroke-width="0.15" font-size="12">2.0</text>
<text transform="translate(1248.00,345.00) scale(0.8513,1)" text-anchor="start" fill="#000" stroke="#000" stroke-width="0.15" font-size="12">3.0</text>
<text transform="translate(1248.00,199.00) scale(0.8513,1)" text-anchor="start" fill="#000" stroke="#000" stroke-width="0.15" font-size="12">4.0</text>
<text transform="translate(1248.00,53.00) scale(0.8513,1)" text-anchor="start" fill="#000" stroke="#000" stroke-width="0.15" font-size="12">5.0</text>
<path d="M1241.5,48V779 M1237,778.5H1246 M1242,632.5H1246 M1242,486.5H1246 M1242,340.5H1246 M1242,194.5H1246 M1237,48.5H1246" stroke="#808080" stroke-width="1" fill="none"/>
<text transform="translate(19.90,37.00) scale(0.7576,1)" text-anchor="start" fill="#008000" stroke="#008000" stroke-width="0.15" font-size="12">°C</text>
<text transform="translate(48.80,37.00) scale(0.8711,1)" text-anchor="start" fill="#0000ff" stroke="#0000ff" stroke-width="0.15" font-size="12">hPa</text>
<text transform="translate(79.70,37.00) scale(0.9421,1)" text-anchor="start" fill="#fff" stroke="#fff" stroke-width="0.15" font-size="12">km/h</text>
<text transform="translate(1204.85,37.00) scale(0.7029,1)" text-anchor="start" fill="#008000" stroke="#008000" stroke-width="0.15" font-size="12">%</text>
<text transform="translate(1241.75,37.00) scale(0.8603,1)" text-anchor="start" fill="#000" stroke="#000" stroke-width="0.15" font-size="12">l/m²</text>
<text transform="translate(1226.00,16.00) scale(0.8661,1)" text-anchor="start" fill="#ff0000" stroke="#ff0000" stroke-width="0.15" font-size="12">Jarz Erich</text>
<text transform="translate(566.25,20.50) scale(0.9927,1)" text-anchor="start" fill="#fff" stroke="#fff" stroke-width="0.15" font-size="16">Samstag, 25.10.2014</text>
<text transform="translate(115.00,797.00) scale(0.8925,1)" text-anchor="middle" fill="#fff" stroke="#fff" stroke-width="0.15" font-size="12">00:00</text>
<text transform="translate(160.42,797.00) scale(0.8925,1)" text-anchor="middle" fill="#fff" stroke="#fff" stroke-width="0.15" font-size="12">01:00</text>
<text transform="translate(205.83,797.00) scale(0.8925,1)" text-anchor="middle" fill="#fff" stroke="#fff" stroke-width="0.15" font-size="12">02:00</text>
<text transform="translate(251.25,797.00) scale(0.8925,1)" text-anchor="middle" fill="#fff" stroke="#fff" stroke-width="0.15" font-size="12">03:00</text>
<text transform="translate(296.67,797.00) scale(0.8925,1)" text-anchor="middle" fill="#fff" stroke="#fff" stroke-width="0.15" font-size="12">04:00</text>
<text transform="translate(342.08,797.00) scale(0.8925,1)" text-anchor="middle" fill="#fff" stroke="#fff" stroke-width="0.15" font-size="12">05:00</text>
<text transform="translate(387.50,797.00) scale(0.8925,1)" text-anchor="middle" fill="#fff" stroke="#fff" stroke-width="0.15" font-size="12">06:00</text>
<text transform="translate(432.92,797.00) scale(0.8925,1)" text-anchor="middle" fill="#fff" stroke="#fff" stroke-width="0.15" font-size="12">07:00</text>
<text transform="translate(478.33,797.00) scale(0.8925,1)" text-anchor="middle" fill="#fff" stroke="#fff" stroke-width="0.15" font-size="12">08:00</text>
<text transform="translate(523.75,797.00) scale(0.8925,1)" text-anchor="middle" fill="#fff" stroke="#fff" stroke-width="0.15" font-size="12">09:00</text>
<text transform="translate(569.17,797.00) scale(0.8925,1)" text-anchor="middle" fill="#fff" stroke="#fff" stroke-width="0.15" font-size="12">10:00</text>
<text transform="translate(614.58,797.00) scale(0.9198,1)" text-anchor="middle" fill="#fff" stroke="#fff" stroke-width="0.15" font-size="12">11:00</text>
<text transform="translate(660.00,797.00) scale(0.8925,1)" text-anchor="middle" fill="#fff" stroke="#fff" stroke-width="0.15" font-size="12">12:00</text>
<text transform="translate(705.42,797.00) scale(0.8925,1)" text-anchor="middle" fill="#fff" stroke="#fff" stroke-width="0.15" font-size="12">13:00</text>
<text transform="translate(750.83,797.00) scale(0.8925,1)" text-anchor="middle" fill="#fff" stroke="#fff" stroke-width="0.15" font-size="12">14:00</text>
<text transform="translate(796.25,797.00) scale(0.8925,1)" text-anchor="middle" fill="#fff" stroke="#fff" stroke-width="0.15" font-size="12">15:00</text>
<text transform="translate(841.67,797.00) scale(0.8925,1)" text-anchor="middle" fill="#fff" stroke="#fff" stroke-width="0.15" font-size="12">16:00</text>
<text transform="translate(887.08,797.00) scale(0.8925,1)" text-anchor="middle" fill="#fff" stroke="#fff" stroke-width="0.15" font-size="12">17:00</text>
<text transform="translate(932.50,797.00) scale(0.8925,1)" text-anchor="middle" fill="#fff" stroke="#fff" stroke-width="0.15" font-size="12">18:00</text>
<text transform="translate(977.92,797.00) scale(0.8925,1)" text-anchor="middle" fill="#fff" stroke="#fff" stroke-width="0.15" font-size="12">19:00</text>
<text transform="translate(1023.33,797.00) scale(0.8925,1)" text-anchor="middle" fill="#fff" stroke="#fff" stroke-width="0.15" font-size="12">20:00</text>
<text transform="translate(1068.75,797.00) scale(0.8925,1)" text-anchor="middle" fill="#fff" stroke="#fff" stroke-width="0.15" font-size="12">21:00</text>
<text transform="translate(1114.17,797.00) scale(0.8925,1)" text-anchor="middle" fill="#fff" stroke="#fff" stroke-width="0.15" font-size="12">22:00</text>
<text transform="translate(1159.58,797.00) scale(0.8925,1)" text-anchor="middle" fill="#fff" stroke="#fff" stroke-width="0.15" font-size="12">23:00</text>
<text transform="translate(1205.00,797.00) scale(0.8925,1)" text-anchor="middle" fill="#fff" stroke="#fff" stroke-width="0.15" font-size="12">24:00</text>
<rect x="124" y="33" width="10" height="10" fill="#fff"/><rect x="125" y="34" width="8" height="8" fill="#008000"/>
<text transform="translate(139.00,42.00) scale(0.8923,1)" text-anchor="start" fill="#008000" stroke="#008000" stroke-width="0.15" font-size="12">Temp. I.*</text>
<rect x="219" y="33" width="10" height="10" fill="#fff"/><rect x="220" y="34" width="8" height="8" fill="#ff0000"/>
<text transform="translate(234.00,42.00) scale(0.8956,1)" text-anchor="start" fill="#008000" stroke="#008000" stroke-width="0.15" font-size="12">Temp. A.*</text>
<rect x="314" y="33" width="10" height="10" fill="#fff"/><rect x="315" y="34" width="8" height="8" fill="#008000"/>
<text transform="translate(329.00,42.00) scale(0.9047,1)" text-anchor="start" fill="#008000" stroke="#008000" stroke-width="0.15" font-size="12">Feuchte I.*</text>
<rect x="409" y="33" width="10" height="10" fill="#fff"/><rect x="410" y="34" width="8" height="8" fill="#00ffff"/>
<text transform="translate(424.00,42.00) scale(0.9107,1)" text-anchor="start" fill="#008000" stroke="#008000" stroke-width="0.15" font-size="12">Feuchte A.*</text>
<rect x="504" y="33" width="10" height="10" fill="#fff"/><rect x="505" y="34" width="8" height="8" fill="#0000ff"/>
<text transform="translate(519.00,42.00) scale(0.9069,1)" text-anchor="start" fill="#0000ff" stroke="#0000ff" stroke-width="0.15" font-size="12">Luftdruck*</text>
<rect x="599" y="33" width="10" height="10" fill="#fff"/><rect x="600" y="34" width="8" height="8" fill="#000"/>
<text transform="translate(614.00,42.00) scale(0.8868,1)" text-anchor="start" fill="#000" stroke="#000" stroke-width="0.15" font-size="12">Regen*</text>
<rect x="694" y="33" width="10" height="10" fill="#fff"/><rect x="695" y="34" width="8" height="8" fill="#fff"/>
<text transform="translate(709.00,42.00) scale(0.8982,1)" text-anchor="start" fill="#fff" stroke="#fff" stroke-width="0.15" font-size="12">Wind*</text>
<rect x="789" y="33" width="10" height="10" fill="#fff"/><rect x="790" y="34" width="8" height="8" fill="#0000ff"/>
<text transform="translate(804.00,42.00) scale(0.8930,1)" text-anchor="start" fill="#fff" stroke="#fff" stroke-width="0.15" font-size="12">Windböen</text>
<rect x="884" y="33" width="10" height="10" fill="#fff"/><rect x="885" y="34" width="8" height="8" fill="#808040"/>
<text transform="translate(899.00,42.00) scale(0.8682,1)" text-anchor="start" fill="#008000" stroke="#008000" stroke-width="0.15" font-size="12">Empfang</text>
<rect x="520" y="774" width="2" height="12" fill="#808080"/>
<rect x="973" y="774" width="2" height="12" fill="#808080"/>
<rect x="516" y="798" width="6" height="6" fill="#fff"/>
<path d="M516,798.5h1M521,798.5h1M516,803.5h1M521,803.5h1" stroke="#2020c0" stroke-width="1"/>
<path d="M523.4,800 L526.6,808 L520.2,808 Z" fill="#ffff00"/>
<path d="M522,801.5h1M522,802.5h1M521,803.5h1M521,804.5h1M520,805.5h1M520,806.5h1" stroke="#000" stroke-width="1"/>
<path d="M524,801.5h1M525,803.5h1M525,804.5h1M526,806.5h1" stroke="#8080e0" stroke-width="1"/>
<text transform="translate(527.90,808.00) scale(0.8659,1)" text-anchor="start" fill="#fff" stroke="#fff" stroke-width="0.15" font-size="12">08:57</text>
<path d="M971.2,798 H974 V800.6 H976 L972.7,807.2 L969.4,800.6 H971.2 Z" fill="#ffff00"/>
<path d="M975,800.5h1M975,801.5h1M974,802.5h1M974,803.5h1M973,804.5h1M973,805.5h1M972,806.5h1" stroke="#000" stroke-width="1"/>
<path d="M969,800.5h1M970,802.5h1M970,803.5h1M971,805.5h1" stroke="#8080e0" stroke-width="1"/>
<path d="M975,808 V806.5 Q975,805 977.2,805 Q979.5,805 979.5,806.5 V808 Z" fill="#fff"/>
<path d="M974,805.5h1M979,805.5h1" stroke="#2020c0" stroke-width="1"/>
<text transform="translate(981.00,808.00) scale(0.8659,1)" text-anchor="start" fill="#fff" stroke="#fff" stroke-width="0.15" font-size="12">18:55</text>
<rect x="0" y="808" width="1280" height="73" fill="#cdfaf7"/>
<rect x="0" y="808" width="1280" height="1" fill="#fff"/><rect x="0" y="808" width="1" height="73" fill="#fff"/>
<rect x="1279" y="808" width="1" height="73" fill="#808080"/>
<rect x="88" y="809" width="1" height="72" fill="#7c7c7c"/>
<rect x="205" y="809" width="1" height="72" fill="#7c7c7c"/>
<rect x="323" y="809" width="1" height="72" fill="#7c7c7c"/>
<rect x="441" y="809" width="1" height="72" fill="#7c7c7c"/>
<rect x="559" y="809" width="1" height="72" fill="#7c7c7c"/>
<rect x="677" y="809" width="1" height="72" fill="#7c7c7c"/>
<rect x="795" y="809" width="1" height="72" fill="#7c7c7c"/>
<rect x="913" y="809" width="1" height="72" fill="#7c7c7c"/>
<text transform="translate(8.60,827.00) scale(0.9390,1)" text-anchor="start" fill="#000" stroke="#000" stroke-width="0.1" font-size="12" font-weight="bold">Sensor</text>
<text transform="translate(8.60,843.00) scale(0.9849,1)" text-anchor="start" fill="#000" stroke="#000" stroke-width="0.1" font-size="12" font-weight="bold">MinWert</text>
<text transform="translate(8.60,859.00) scale(0.9841,1)" text-anchor="start" fill="#000" stroke="#000" stroke-width="0.1" font-size="12" font-weight="bold">MaxWert</text>
<text transform="translate(8.60,875.00) scale(0.9635,1)" text-anchor="start" fill="#000" stroke="#000" stroke-width="0.1" font-size="12" font-weight="bold">Durchschnitt</text>
<text transform="translate(95.00,827.00) scale(0.9932,1)" text-anchor="start" fill="#000" stroke="#000" stroke-width="0.1" font-size="12" font-weight="bold">Temp. A.</text>
<text transform="translate(198.00,827.00) scale(0.8541,1)" text-anchor="end" fill="#000" stroke="#000" stroke-width="0.1" font-size="12" font-weight="bold">°C</text>
<text transform="translate(100.50,843.00) scale(0.8892,1)" text-anchor="start" fill="#000" stroke="#000" stroke-width="0.15" font-size="12">07:35</text>
<text transform="translate(198.00,843.00) scale(0.8632,1)" text-anchor="end" fill="#000" stroke="#000" stroke-width="0.15" font-size="12">5.7</text>
<text transform="translate(101.00,859.00) scale(0.8725,1)" text-anchor="start" fill="#000" stroke="#000" stroke-width="0.15" font-size="12">14:15</text>
<text transform="translate(198.00,859.00) scale(0.8632,1)" text-anchor="end" fill="#000" stroke="#000" stroke-width="0.15" font-size="12">9.7</text>
<text transform="translate(198.00,875.00) scale(0.8606,1)" text-anchor="end" fill="#000" stroke="#000" stroke-width="0.15" font-size="12">7.32</text>
<text transform="translate(213.40,827.00) scale(1.0056,1)" text-anchor="start" fill="#000" stroke="#000" stroke-width="0.1" font-size="12" font-weight="bold">Temp. I.</text>
<text transform="translate(316.40,827.00) scale(0.8541,1)" text-anchor="end" fill="#000" stroke="#000" stroke-width="0.1" font-size="12" font-weight="bold">°C</text>
<text transform="translate(218.60,843.00) scale(0.8792,1)" text-anchor="start" fill="#000" stroke="#000" stroke-width="0.15" font-size="12">15:40</text>
<text transform="translate(316.40,843.00) scale(0.8863,1)" text-anchor="end" fill="#000" stroke="#000" stroke-width="0.15" font-size="12">22.8</text>
<text transform="translate(218.60,859.00) scale(0.8792,1)" text-anchor="start" fill="#000" stroke="#000" stroke-width="0.15" font-size="12">08:45</text>
<text transform="translate(316.40,859.00) scale(0.8863,1)" text-anchor="end" fill="#000" stroke="#000" stroke-width="0.15" font-size="12">24.7</text>
<text transform="translate(316.40,875.00) scale(0.8892,1)" text-anchor="end" fill="#000" stroke="#000" stroke-width="0.15" font-size="12">23.92</text>
<text transform="translate(684.90,827.00) scale(0.9543,1)" text-anchor="start" fill="#000" stroke="#000" stroke-width="0.1" font-size="12" font-weight="bold">Luftdruck</text>
<text transform="translate(788.00,827.00) scale(0.9588,1)" text-anchor="end" fill="#000" stroke="#000" stroke-width="0.1" font-size="12" font-weight="bold">hPa</text>
<text transform="translate(690.90,843.00) scale(0.8592,1)" text-anchor="start" fill="#000" stroke="#000" stroke-width="0.15" font-size="12">00:00</text>
<text transform="translate(787.50,843.00) scale(0.8501,1)" text-anchor="end" fill="#000" stroke="#000" stroke-width="0.15" font-size="12">1022.1</text>
<text transform="translate(690.90,859.00) scale(0.8592,1)" text-anchor="start" fill="#000" stroke="#000" stroke-width="0.15" font-size="12">23:30</text>
<text transform="translate(788.00,859.00) scale(0.8651,1)" text-anchor="end" fill="#000" stroke="#000" stroke-width="0.15" font-size="12">1026.7</text>
<text transform="translate(684.90,875.00) scale(0.9390,1)" text-anchor="start" fill="#000" stroke="#000" stroke-width="0.15" font-size="12">^0.7hPa/h</text>
<text transform="translate(788.00,875.00) scale(0.8651,1)" text-anchor="end" fill="#000" stroke="#000" stroke-width="0.15" font-size="12">1024.5</text>
<text transform="translate(802.70,827.00) scale(0.9926,1)" text-anchor="start" fill="#000" stroke="#000" stroke-width="0.1" font-size="12" font-weight="bold">Regen</text>
<text transform="translate(905.30,827.00) scale(1.0077,1)" text-anchor="end" fill="#000" stroke="#000" stroke-width="0.1" font-size="12" font-weight="bold">l/m²</text>
<text transform="translate(808.70,859.00) scale(0.8758,1)" text-anchor="start" fill="#000" stroke="#000" stroke-width="0.15" font-size="12">00:40</text>
<text transform="translate(906.20,859.00) scale(0.8752,1)" text-anchor="end" fill="#000" stroke="#000" stroke-width="0.15" font-size="12">0.2</text>
<text transform="translate(802.70,875.00) scale(0.8248,1)" text-anchor="start" fill="#000" stroke="#000" stroke-width="0.15" font-size="12">Gesamt:</text>
<text transform="translate(906.20,875.00) scale(0.8752,1)" text-anchor="end" fill="#000" stroke="#000" stroke-width="0.15" font-size="12">1.6</text>
<text transform="translate(920.80,827.00) scale(0.9687,1)" text-anchor="start" fill="#000" stroke="#000" stroke-width="0.1" font-size="12" font-weight="bold">Wind</text>
<text transform="translate(1021.30,827.00) scale(1.0247,1)" text-anchor="end" fill="#000" stroke="#000" stroke-width="0.1" font-size="12" font-weight="bold">km/h</text>
<text transform="translate(920.80,843.00) scale(0.8266,1)" text-anchor="start" fill="#000" stroke="#000" stroke-width="0.15" font-size="12">Ø 10 min.</text>
<text transform="translate(1021.80,843.00) scale(0.8513,1)" text-anchor="end" fill="#000" stroke="#000" stroke-width="0.15" font-size="12">0.0</text>
<text transform="translate(926.80,859.00) scale(0.8758,1)" text-anchor="start" fill="#000" stroke="#000" stroke-width="0.15" font-size="12">12:15</text>
<text transform="translate(1021.80,859.00) scale(0.8647,1)" text-anchor="end" fill="#000" stroke="#000" stroke-width="0.15" font-size="12">SO 3.9</text>
<text transform="translate(1021.80,875.00) scale(0.8513,1)" text-anchor="end" fill="#000" stroke="#000" stroke-width="0.15" font-size="12">0.9</text>
</svg>
</body></html>
